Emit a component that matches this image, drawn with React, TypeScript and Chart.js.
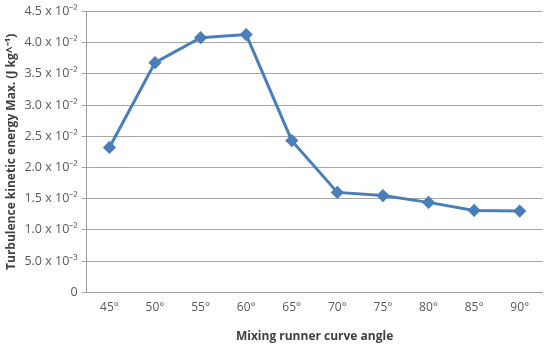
import React, { useEffect, useRef } from "react";
import { Chart, registerables } from "chart.js";

Chart.register(...registerables);

const angles = ["45°", "50°", "55°", "60°", "65°", "70°", "75°", "80°", "85°", "90°"];
const tkeMax = [0.0232, 0.0368, 0.0408, 0.0413, 0.0243, 0.016, 0.0155, 0.0144, 0.0131, 0.013];
const yTickLabels = [
  "0",
  "5.0 x 10⁻³",
  "1.0 x 10⁻²",
  "1.5 x 10⁻²",
  "2.0 x 10⁻²",
  "2.5 x 10⁻²",
  "3.0 x 10⁻²",
  "3.5 x 10⁻²",
  "4.0 x 10⁻²",
  "4.5 x 10⁻²",
];
const xTitle = "Mixing runner curve angle";
const yTitle = "Turbulence kinetic energy Max. (J kg^⁻¹)";

export default function App() {
  const ref = useRef<HTMLCanvasElement>(null);
  useEffect(() => {
    document.body.style.margin = "0";
    const font = "'Open Sans', 'Liberation Sans', sans-serif";
    const chart = new Chart(ref.current!, {
      type: "line",
      data: {
        labels: angles,
        datasets: [
          {
            data: tkeMax,
            borderColor: "#4a7ebb",
            backgroundColor: "#4a7ebb",
            borderWidth: 3,
            pointStyle: "rectRot",
            pointRadius: 4.5,
            pointHoverRadius: 4.5,
            tension: 0,
          },
        ],
      },
      options: {
        animation: false,
        responsive: false,
        maintainAspectRatio: false,
        plugins: { legend: { display: false }, tooltip: { enabled: false } },
        layout: { padding: { top: 4, right: 6, left: 4, bottom: 2 } },
        scales: {
          x: {
            offset: true,
            grid: { display: false, drawTicks: false },
            border: { display: true, color: "#a0a0a0", width: 1 },
            ticks: { color: "#595959", font: { family: font, size: 12 }, padding: 8, maxRotation: 0 },
            title: {
              display: true,
              text: xTitle,
              color: "#404040",
              font: { family: font, size: 12, weight: "bold" },
              padding: { top: 7, bottom: 2 },
            },
          },
          y: {
            min: 0,
            max: 0.045,
            ticks: {
              stepSize: 0.005,
              color: "#595959",
              font: { family: font, size: 12.5 },
              padding: 4,
              callback: (_v: any, i: number) => yTickLabels[i],
            },
            grid: { color: "#a6a6a6", tickLength: 5, drawTicks: true },
            border: { display: true, color: "#a0a0a0", width: 1 },
            title: {
              display: true,
              text: yTitle,
              color: "#404040",
              font: { family: font, size: 12, weight: "bold" },
              padding: { top: 0, bottom: 2 },
            },
          },
        },
      },
    });
    return () => chart.destroy();
  }, []);
  return (
    <div style={{ width: 550, height: 348 }}>
      <canvas ref={ref} width={550} height={348} />
    </div>
  );
}
